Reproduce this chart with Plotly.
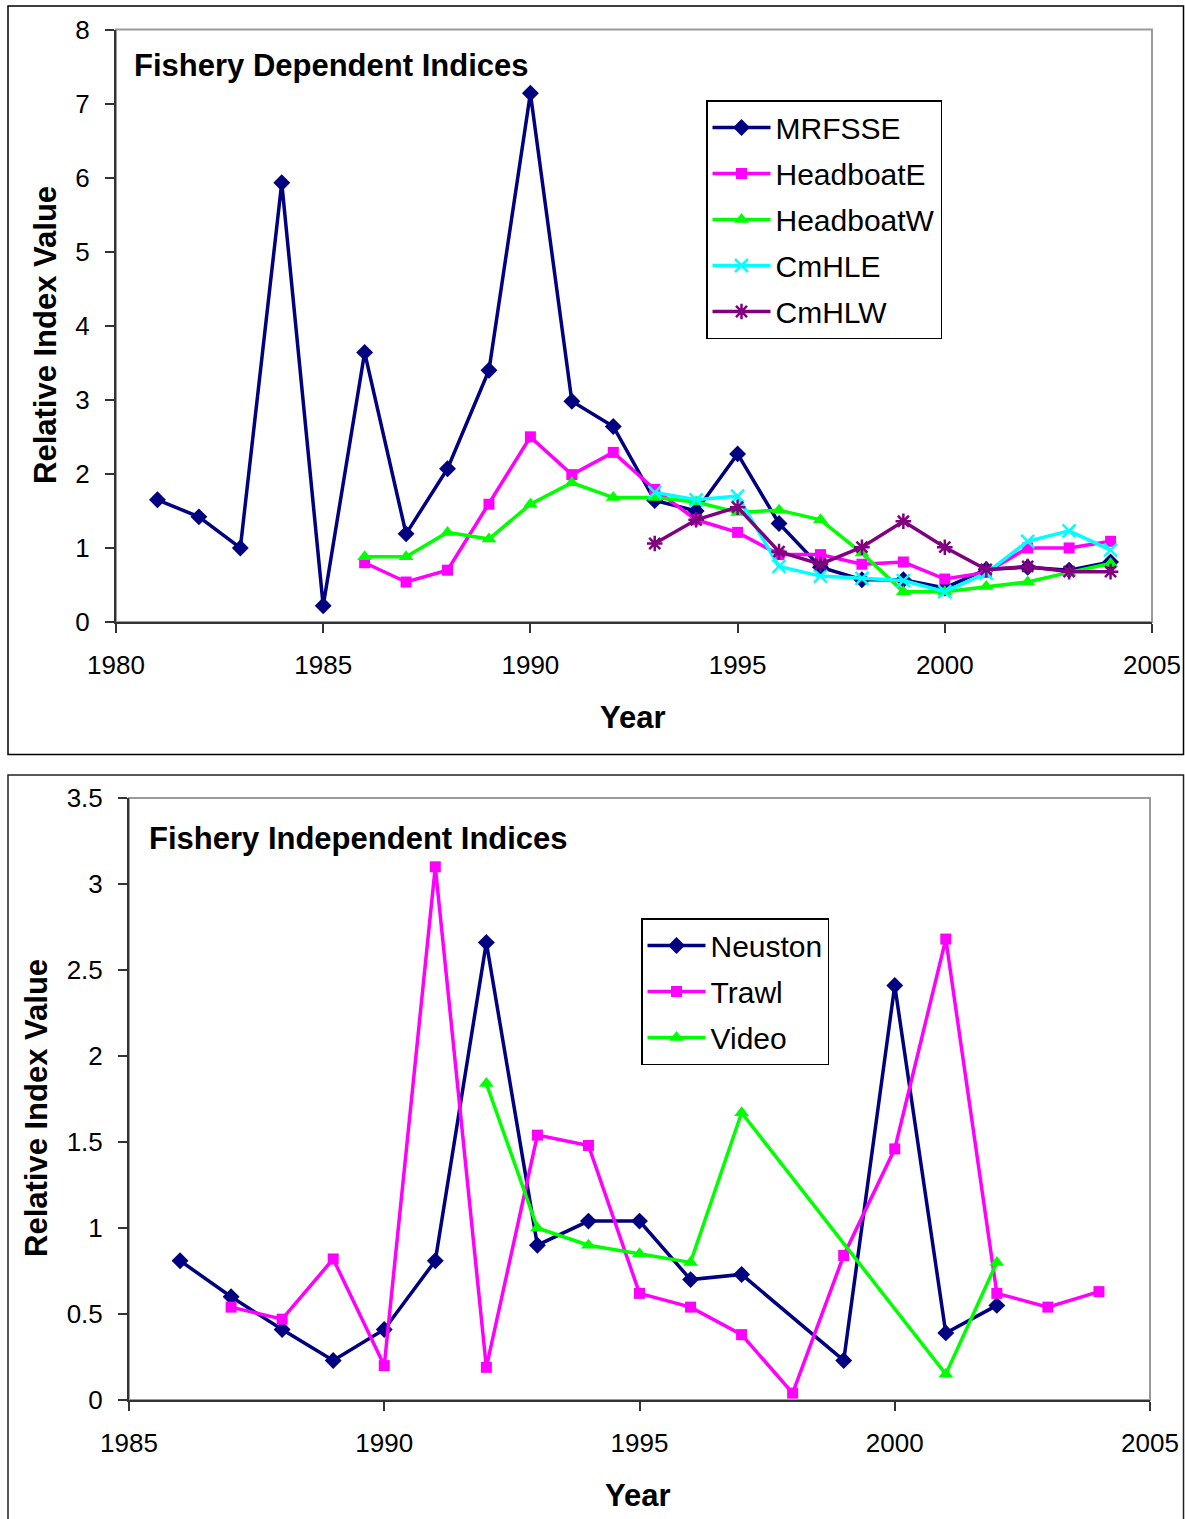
import plotly.graph_objects as go

W, H = 1185, 1519

# ---------------- data: fishery dependent ----------------
mrfsse_years = list(range(1981, 2005))
mrfsse = [1.65, 1.42, 1.00, 5.93, 0.22, 3.64, 1.19, 2.07, 3.40, 7.14, 2.98, 2.64,
          1.64, 1.50, 2.27, 1.33, 0.74, 0.57, 0.57, 0.46, 0.71, 0.74, 0.70, 0.81]

headboatE_years = list(range(1986, 2005))
headboatE = [0.80, 0.54, 0.70, 1.59, 2.50, 1.99, 2.29, 1.79, 1.38, 1.21, 0.91, 0.91,
             0.78, 0.81, 0.58, 0.67, 1.00, 1.00, 1.09]

headboatW_years = list(range(1986, 2005))
headboatW = [0.88, 0.88, 1.21, 1.12, 1.59, 1.88, 1.68, 1.68, 1.62, 1.48, 1.51, 1.38,
             0.93, 0.41, 0.41, 0.48, 0.54, 0.67, 0.79]

cmhle_years = list(range(1993, 2005))
cmhle = [1.75, 1.65, 1.70, 0.75, 0.62, 0.59, 0.56, 0.41, 0.66, 1.09, 1.23, 0.97]

cmhlw_years = list(range(1993, 2005))
cmhlw = [1.06, 1.38, 1.55, 0.95, 0.78, 1.01, 1.36, 1.01, 0.71, 0.75, 0.68, 0.68]

# ---------------- data: fishery independent ----------------
neuston_years = [1986, 1987, 1988, 1989, 1990, 1991, 1992, 1993, 1994, 1995, 1996, 1997,
                 1999, 2000, 2001, 2002]
neuston = [0.81, 0.60, 0.41, 0.23, 0.41, 0.81, 2.66, 0.90, 1.04, 1.04, 0.70, 0.73,
           0.23, 2.41, 0.39, 0.55]

trawl_years = list(range(1987, 2005))
trawl = [0.54, 0.47, 0.82, 0.20, 3.10, 0.19, 1.54, 1.48, 0.62, 0.54, 0.38, 0.04,
         0.84, 1.46, 2.68, 0.62, 0.54, 0.63]

video_years = [1992, 1993, 1994, 1995, 1996, 1997, 2001, 2002]
video = [1.84, 1.00, 0.90, 0.85, 0.80, 1.67, 0.15, 0.80]

# ---------------- styling ----------------
NAVY, MAG, GRN, CYN, PUR = "#000080", "#FF00FF", "#00FF00", "#00FFFF", "#800080"
FONT = "Liberation Sans, Arial, sans-serif"
LW = 3.5


def px(x):
    return x / W


def py(y):
    return 1 - y / H


fig = go.Figure()

def add(xs, ys, name, color, symbol, size, xa, ya, legend, mline=0):
    m = dict(symbol=symbol, size=size, color=color)
    m["line"] = dict(width=mline, color=color)
    fig.add_trace(go.Scatter(x=xs, y=ys, name=name, mode="lines+markers",
                             line=dict(color=color, width=LW), marker=m,
                             xaxis=xa, yaxis=ya, legend=legend, legendgroup=name))

add(mrfsse_years, mrfsse, "MRFSSE", NAVY, "diamond", 13, "x", "y", "legend")
add(headboatE_years, headboatE, "HeadboatE", MAG, "square", 11, "x", "y", "legend")
add(headboatW_years, headboatW, "HeadboatW", GRN, "triangle-up", 13, "x", "y", "legend")
add(cmhle_years, cmhle, "CmHLE", CYN, "x-thin", 13, "x", "y", "legend", mline=2.5)
add(cmhlw_years, cmhlw, "CmHLW", PUR, "asterisk", 13, "x", "y", "legend", mline=2.5)

add(neuston_years, neuston, "Neuston", NAVY, "diamond", 13, "x2", "y2", "legend2")
add(trawl_years, trawl, "Trawl", MAG, "square", 11, "x2", "y2", "legend2")
add(video_years, video, "Video", GRN, "triangle-up", 13, "x2", "y2", "legend2")

tickfont = dict(family=FONT, size=26, color="black")
axis_common = dict(showline=True, linecolor="#333333", linewidth=2, ticks="outside",
                   ticklen=9, tickwidth=1.5, tickcolor="#333333", showgrid=False,
                   zeroline=False, tickfont=tickfont, mirror=False, automargin=False)

# plot areas (pixel)
top_plot = (116, 1152, 29.5, 622)
bot_plot = (129, 1150, 798, 1400)

legend_common = dict(xanchor="left", yanchor="top", bgcolor="white",
                     bordercolor="black", borderwidth=1.5,
                     font=dict(family=FONT, size=30, color="black"), itemwidth=58,
                     tracegroupgap=4)

fig.update_layout(
    width=W, height=H, margin=dict(l=0, r=0, t=0, b=0, pad=0, autoexpand=False),
    paper_bgcolor="white", plot_bgcolor="white",
    font=dict(family=FONT, color="black"),
    xaxis=dict(domain=[px(top_plot[0]), px(top_plot[1])], range=[1980, 2005], dtick=5,
               tick0=1980, anchor="y", ticklabelstandoff=10, **axis_common),
    yaxis=dict(domain=[py(top_plot[3]), py(top_plot[2])], range=[0, 8], dtick=1,
               anchor="x", ticklabelstandoff=10, **axis_common),
    xaxis2=dict(domain=[px(bot_plot[0]), px(bot_plot[1])], range=[1985, 2005], dtick=5,
                tick0=1985, anchor="y2", ticklabelstandoff=10, **axis_common),
    yaxis2=dict(domain=[py(bot_plot[3]), py(bot_plot[2])], range=[0, 3.5], dtick=0.5,
                anchor="x2", ticklabelstandoff=10, **axis_common),
    legend=dict(x=px(706), y=py(100), **legend_common),
    legend2=dict(x=px(641), y=py(918), **legend_common),
    showlegend=True,
)

shapes = []
# outer chart borders
shapes.append(dict(type="rect", xref="paper", yref="paper", x0=px(8), x1=px(1183.5),
                   y0=py(754.5), y1=py(6), line=dict(color="black", width=1.5),
                   layer="below"))
shapes.append(dict(type="rect", xref="paper", yref="paper", x0=px(8), x1=px(1183.5),
                   y0=py(1540), y1=py(775), line=dict(color="#222222", width=1.5),
                   layer="below"))
# plot-area borders (gray, top & right)
for (x0, x1, y0, y1) in (top_plot, bot_plot):
    shapes.append(dict(type="rect", xref="paper", yref="paper", x0=px(x0), x1=px(x1),
                       y0=py(y1), y1=py(y0), line=dict(color="#9a9a9a", width=2),
                       layer="below"))
fig.update_layout(shapes=shapes)

bold = dict(family="Liberation Sans, Arial, sans-serif", size=31, color="black")
ann = [
    dict(text="<b>Fishery Dependent Indices</b>", x=px(132), y=py(65), xanchor="left",
         yanchor="middle", font=bold),
    dict(text="<b>Fishery Independent Indices</b>", x=px(147), y=py(838), xanchor="left",
         yanchor="middle", font=bold),
    dict(text="<b>Relative Index Value</b>", x=px(45), y=py(335), textangle=-90,
         xanchor="center", yanchor="middle", font=bold),
    dict(text="<b>Relative Index Value</b>", x=px(36), y=py(1108), textangle=-90,
         xanchor="center", yanchor="middle", font=bold),
    dict(text="<b>Year</b>", x=px(633), y=py(717), xanchor="center", yanchor="middle",
         font=bold),
    dict(text="<b>Year</b>", x=px(638), y=py(1495), xanchor="center", yanchor="middle",
         font=bold),
]
for a in ann:
    a.update(xref="paper", yref="paper", showarrow=False)
fig.update_layout(annotations=ann)

fig.write_html("out.html")
